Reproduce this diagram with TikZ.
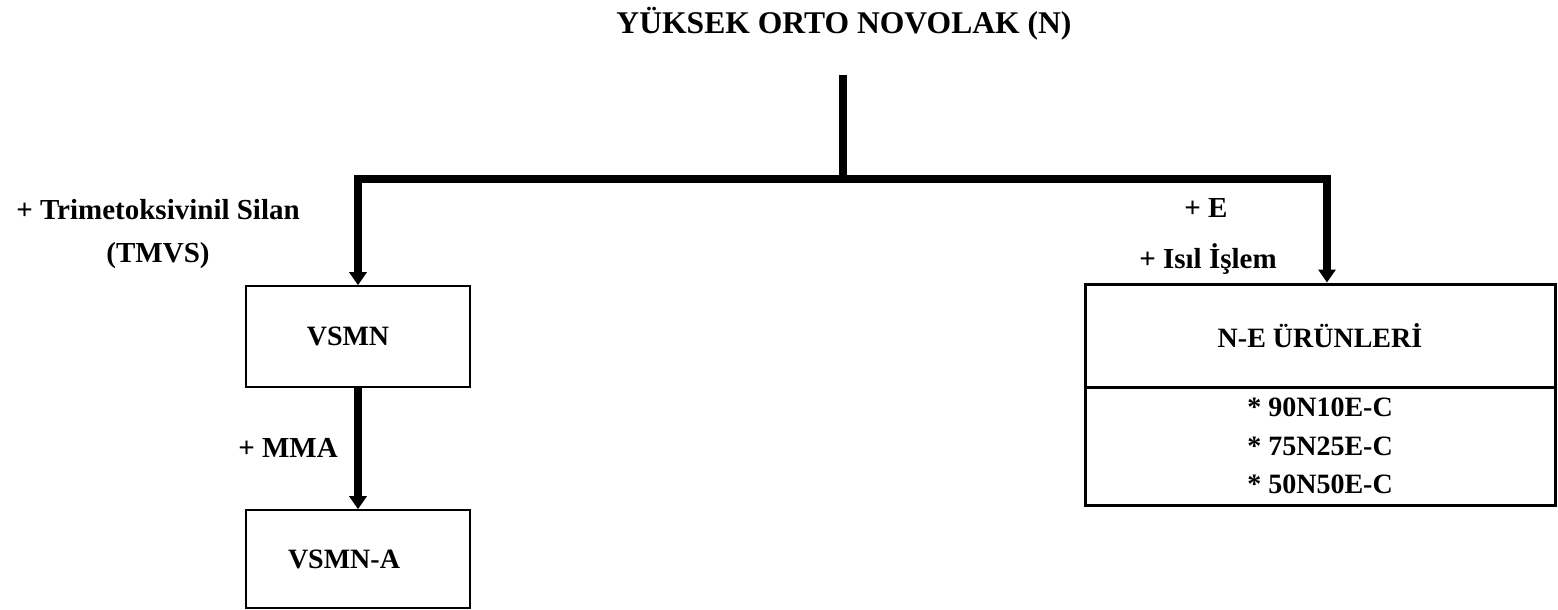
\documentclass[tikz,border=0pt]{standalone}
\usepackage{fontspec}
\setmainfont{Liberation Serif}
\usetikzlibrary{arrows.meta}
\begin{document}
\begin{tikzpicture}[x=0.5pt,y=-0.5pt,
  lbl/.style={font=\fontsize{14.5}{17}\selectfont\bfseries, inner sep=0pt, anchor=base},
  ttl/.style={font=\fontsize{15.8}{19}\selectfont\bfseries, inner sep=0pt, anchor=base},
  thinbox/.style={draw, line width=0.8pt, minimum width=112pt, inner sep=0pt,
    font=\fontsize{14}{17}\selectfont\bfseries},
  thickbox/.style={draw, line width=1.5pt, minimum width=235pt, inner sep=0pt,
    font=\fontsize{14}{19.25}\selectfont\bfseries, align=center},
  bar/.style={line width=4pt, line join=miter},
  tip/.style={-{Triangle[width=8.5pt,length=6.5pt]}}
]
\useasboundingbox (0,0) rectangle (1558,610);

% title
\node[ttl] (title) at (844,34) {YÜKSEK ORTO NOVOLAK (N)};

% boxes
\node[thinbox, minimum height=50.5pt] (vsmn) at (358,336.5) {VSMN\hspace*{10pt}};
\node[thinbox, minimum height=49pt] (vsmna) at (358,559) {VSMN-A\hspace*{14pt}};
\node[thickbox, minimum height=51.5pt] (ne) at (1320,335.5) {N-E ÜRÜNLERİ};
\node[thickbox, minimum height=59pt] (nelist) at (1320,446)
  {* 90N10E-C\\ * 75N25E-C\\ * 50N50E-C};

% labels
\node[lbl] (ltmvs) at (158,219) {+ Trimetoksivinil Silan};
\node[lbl] (ltmvs2) at (158,262) {(TMVS)};
\node[lbl] (le) at (1206,217) {+ E};
\node[lbl] (lisil) at (1208,268) {+ Isıl İşlem};
\node[lbl] (lmma) at (288,457) {+ MMA};

% connectors
\coordinate (stemtop) at (843,75);
\coordinate (j) at (843,179);
\draw[bar] (stemtop) -- (j);
\draw[bar, tip] (j) -| (vsmn.north);
\draw[bar, tip] (j) -| ([xshift=3.5pt]ne.north);
\draw[bar, tip] (vsmn.south) -- (vsmna.north);
\end{tikzpicture}
\end{document}
